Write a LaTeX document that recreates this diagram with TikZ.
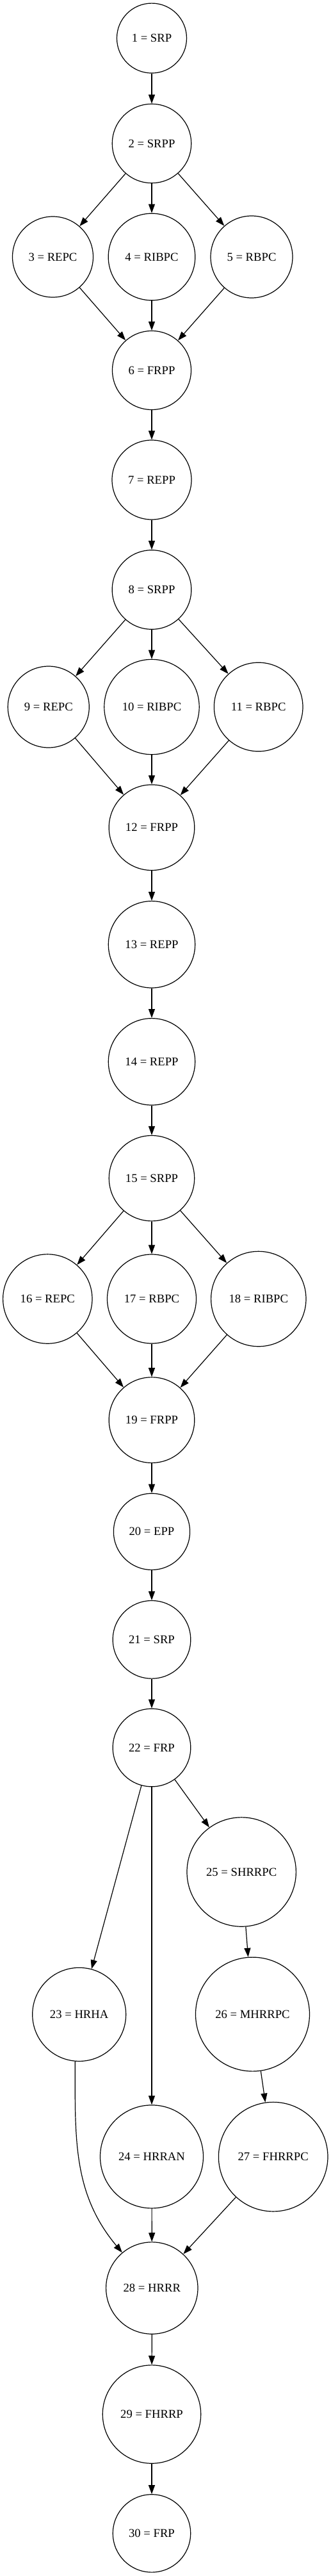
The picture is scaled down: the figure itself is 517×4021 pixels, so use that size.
\documentclass[tikz,border=0pt]{standalone}
\usepackage{fontspec}
\setmainfont{Liberation Serif}
\usetikzlibrary{arrows.meta}

\tikzset{
  phase/.style={draw,circle,inner sep=0pt,line width=0.9pt,
    font=\fontsize{14}{16}\selectfont},
  flow/.style={-{Triangle[length=10.5pt,width=7.5pt]},line width=0.9pt},
}

\begin{document}
\begin{tikzpicture}[x=0.75pt,y=-0.75pt]
\useasboundingbox (0,0) rectangle (517,4021);

% States: number/x/y/radius/name (pixel units).
\foreach \i/\x/\y/\r/\t in {
  1/237/59.6/54.5/SRP, 2/237/224/61.7/SRPP,
  3/82.5/401/63/REPC, 4/237/401/67.8/RIBPC, 5/393/401/64/RBPC,
  6/237/578/61.5/FRPP, 7/237/749/62/REPP, 8/237/920.5/61.8/SRPP,
  9/75.8/1103.5/63.5/REPC, 10/237/1103.5/74.2/RIBPC, 11/403.7/1103.5/69.3/RBPC,
  12/237/1291.7/66.8/FRPP, 13/237/1474.3/67.7/REPP, 14/237/1657.3/67.7/REPP,
  15/237/1839.2/66.7/SRPP,
  16/74.3/2027.5/69.7/REPC, 17/237/2027.5/69.5/RBPC, 18/403.8/2027.5/74.2/RIBPC,
  19/237/2216.6/66.8/FRPP, 20/237/2390.8/59.6/EPP, 21/237/2559.3/60.8/SRP,
  22/237/2728/60.8/FRP, 25/377.2/2922/85.2/SHRRPC,
  23/123.7/3144.4/73/HRHA, 26/394.5/3144.1/89/MHRRPC,
  24/237/3366.4/80.5/HRRAN, 27/426.7/3366.6/85.3/FHRRPC,
  28/237.3/3571.5/71.7/HRRR, 29/237/3768.5/76.7/FHRRP, 30/237/3954.4/60.7/FRP}
  \node[phase,minimum size={1.5pt*\r}] (s\i) at (\x,\y) {\i{} = \t};

% Straight transitions.
\foreach \a/\b in {1/2, 2/3, 2/4, 2/5, 3/6, 4/6, 5/6, 6/7, 7/8,
  8/9, 8/10, 8/11, 9/12, 10/12, 11/12, 12/13, 13/14, 14/15,
  15/16, 15/17, 15/18, 16/19, 17/19, 18/19, 19/20, 20/21, 21/22,
  22/23, 22/24, 22/25, 25/26, 26/27, 24/28, 27/28, 28/29, 29/30}
  \draw[flow] (s\a) -- (s\b);

% HRHA back into HRRR.
\draw[flow] (s23.265) to[out=-90,in=130] (s28);
\end{tikzpicture}
\end{document}
